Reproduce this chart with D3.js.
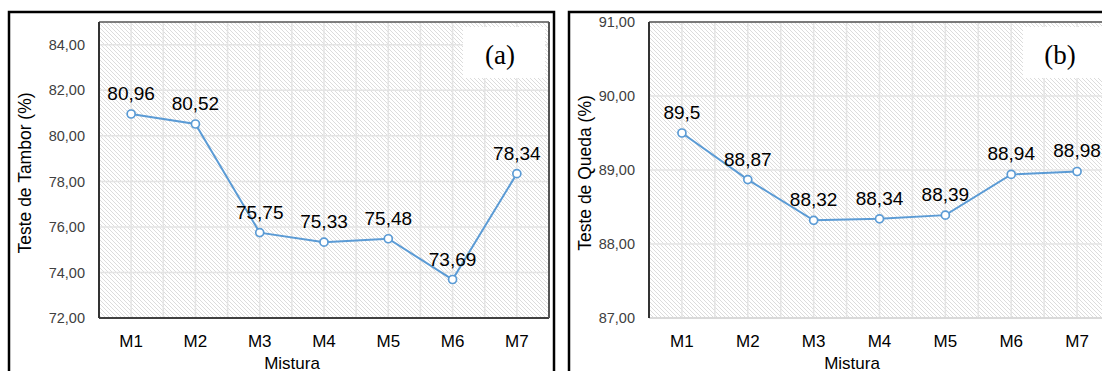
<!DOCTYPE html>
<html lang="en">
	<head>
		<meta charset="UTF-8"/>
		<title>Teste de Tambor / Teste de Queda</title>
		<script type="text/javascript" src="https://cdn.jsdelivr.net/npm/d3@7"></script>
		<style>
			body { margin: 0; background: #fff; }
			svg { display: block; }
		</style>
	</head>
	<body>
		<script type="text/javascript">
			var categories = ["M1", "M2", "M3", "M4", "M5", "M6", "M7"];
			var tamborValues = [80.96, 80.52, 75.75, 75.33, 75.48, 73.69, 78.34];
			var quedaValues = [89.5, 88.87, 88.32, 88.34, 88.39, 88.94, 88.98];
			var tamborTicks = [72, 74, 76, 78, 80, 82, 84];
			var quedaTicks = [87, 88, 89, 90, 91];

			var w = 1102;
			var h = 371;

			var svg = d3.select("body")
				.append("svg")
				.attr("width", w)
				.attr("height", h);

			// diagonal hatch used as plot background
			var pat = svg.append("defs")
				.append("pattern")
				.attr("id", "hatch")
				.attr("patternUnits", "userSpaceOnUse")
				.attr("width", 4)
				.attr("height", 4);
			pat.append("rect").attr("width", 4).attr("height", 4).attr("fill", "#fff");
			pat.append("path")
				.attr("d", "M0,0L4,4M-1,3L1,5M3,-1L5,1")
				.attr("stroke", "#dcdcdc")
				.attr("stroke-width", 1);

			function comma(v) { return String(v).replace(".", ","); }

			function drawPanel(opt) {
				var g = svg.append("g");

				// outer frame
				g.append("rect")
					.attr("x", opt.frame[0])
					.attr("y", 12)
					.attr("width", opt.frame[1] - opt.frame[0])
					.attr("height", 380)
					.attr("fill", "none")
					.attr("stroke", "#000")
					.attr("stroke-width", 2.5);

				var xScale = d3.scaleBand()
					.domain(categories)
					.range([opt.left, opt.right]);

				var yScale = d3.scaleLinear()
					.domain(opt.domain)
					.range([318, 22]);

				g.append("rect")
					.attr("x", opt.left)
					.attr("y", 22)
					.attr("width", opt.right - opt.left)
					.attr("height", 296)
					.attr("fill", "url(#hatch)");

				// vertical gridlines at centres and band edges
				var vx = [];
				categories.forEach(function(c) {
					vx.push(xScale(c));
					vx.push(xScale(c) + xScale.bandwidth() / 2);
				});
				g.selectAll(".vgrid")
					.data(vx.slice(1))
					.enter()
					.append("line")
					.attr("x1", function(d) { return d; })
					.attr("x2", function(d) { return d; })
					.attr("y1", 22)
					.attr("y2", 318)
					.attr("stroke", "#e4e4e4")
					.attr("stroke-width", 1.5);

				g.selectAll(".hgrid")
					.data(opt.ticks)
					.enter()
					.append("line")
					.attr("x1", opt.left)
					.attr("x2", opt.right)
					.attr("y1", function(d) { return yScale(d); })
					.attr("y2", function(d) { return yScale(d); })
					.attr("stroke", "#e4e4e4")
					.attr("stroke-width", 1.5);

				// plot frame
				g.append("line")
					.attr("x1", opt.left).attr("x2", opt.right)
					.attr("y1", 318).attr("y2", 318)
					.attr("stroke", opt.bottomColor).attr("stroke-width", 2);
				g.append("line")
					.attr("x1", opt.left).attr("x2", opt.right)
					.attr("y1", 22).attr("y2", 22)
					.attr("stroke", "#555").attr("stroke-width", 1.5);
				g.append("line")
					.attr("x1", opt.left).attr("x2", opt.left)
					.attr("y1", 22).attr("y2", 318)
					.attr("stroke", "#333").attr("stroke-width", 2);
				g.append("line")
					.attr("x1", opt.right).attr("x2", opt.right)
					.attr("y1", 22).attr("y2", 318)
					.attr("stroke", "#555").attr("stroke-width", 2);

				var yAxis = d3.axisLeft(yScale)
					.tickValues(opt.ticks)
					.tickSize(0)
					.tickPadding(14)
					.tickFormat(function(d) { return d3.format(".2f")(d).replace(".", ","); });

				var ya = g.append("g")
					.attr("transform", "translate(" + opt.left + ",0)")
					.call(yAxis);
				ya.select(".domain").remove();
				ya.selectAll("text")
					.attr("font-family", "Liberation Sans, Arial, sans-serif")
					.attr("font-size", "14.5px")
					.attr("fill", "#404040");

				var xAxis = d3.axisBottom(xScale)
					.tickSize(0)
					.tickPadding(17);

				var xa = g.append("g")
					.attr("transform", "translate(0,318)")
					.call(xAxis);
				xa.select(".domain").remove();
				xa.selectAll("text")
					.attr("font-family", "Liberation Sans, Arial, sans-serif")
					.attr("font-size", "17px")
					.attr("fill", "#000");

				// axis titles
				g.append("text")
					.attr("x", opt.frame[0] + 283)
					.attr("y", 369)
					.attr("text-anchor", "middle")
					.attr("font-family", "Liberation Sans, Arial, sans-serif")
					.attr("font-size", "17px")
					.text("Mistura");

				g.append("text")
					.attr("transform", "translate(" + (opt.frame[0] + 22) + ",173) rotate(-90)")
					.attr("text-anchor", "middle")
					.attr("font-family", "Liberation Sans, Arial, sans-serif")
					.attr("font-size", "17.5px")
					.text(opt.title);

				// series
				var cx = function(d, i) { return xScale(categories[i]) + xScale.bandwidth() / 2; };

				var line = d3.line()
					.x(cx)
					.y(function(d) { return yScale(d); });

				g.append("path")
					.datum(opt.values)
					.attr("d", line)
					.attr("fill", "none")
					.attr("stroke", "#5b9bd5")
					.attr("stroke-width", 2);

				g.selectAll(".pt")
					.data(opt.values)
					.enter()
					.append("circle")
					.attr("cx", cx)
					.attr("cy", function(d) { return yScale(d); })
					.attr("r", 4)
					.attr("fill", "#fff")
					.attr("stroke", "#5b9bd5")
					.attr("stroke-width", 1.7);

				g.selectAll(".lbl")
					.data(opt.values)
					.enter()
					.append("text")
					.attr("x", cx)
					.attr("y", function(d) { return yScale(d) - 14; })
					.attr("text-anchor", "middle")
					.attr("font-family", "Liberation Sans, Arial, sans-serif")
					.attr("font-size", "19px")
					.attr("fill", "#000")
					.text(function(d) { return comma(d); });

				// panel tag
				g.append("rect")
					.attr("x", opt.tagX - 37)
					.attr("y", 27)
					.attr("width", 82)
					.attr("height", 51)
					.attr("fill", "#fff");
				g.append("text")
					.attr("x", opt.tagX)
					.attr("y", 64)
					.attr("text-anchor", "middle")
					.attr("font-family", "Liberation Serif, Times New Roman, serif")
					.attr("font-size", "27px")
					.text(opt.tag);
			}

			drawPanel({
				frame: [9, 554],
				left: 99, right: 549,
				domain: [72, 85],
				ticks: tamborTicks,
				values: tamborValues,
				title: "Teste de Tambor (%)",
				tag: "(a)", tagX: 500,
				bottomColor: "#404040"
			});

			drawPanel({
				frame: [569, 1130],
				left: 649, right: 1110,
				domain: [87, 91],
				ticks: quedaTicks,
				values: quedaValues,
				title: "Teste de Queda (%)",
				tag: "(b)", tagX: 1060,
				bottomColor: "#d9d9d9"
			});
		</script>
	</body>
</html>
